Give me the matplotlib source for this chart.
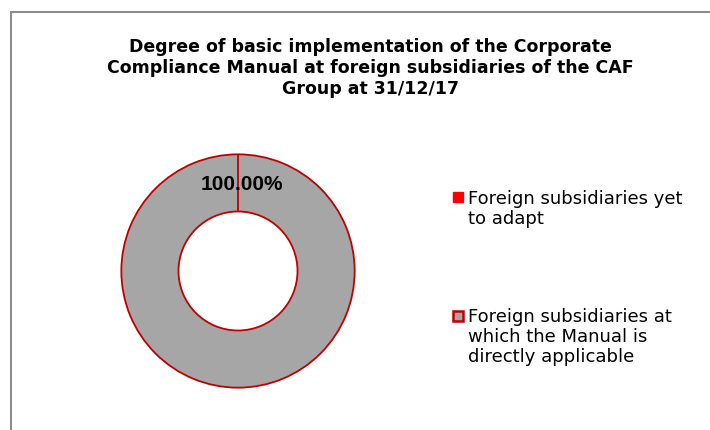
import matplotlib.pyplot as plt
from matplotlib.patches import Rectangle
import numpy as np

# data
labels = ["Foreign subsidiaries yet\nto adapt",
          "Foreign subsidiaries at\nwhich the Manual is\ndirectly applicable"]
values = [0, 100]
colors = ["#FF0000", "#A6A6A6"]
title = ("Degree of basic implementation of the Corporate\n"
         "Compliance Manual at foreign subsidiaries of the CAF\n"
         "Group at 31/12/17")

W, H = 710, 430
fig = plt.figure(figsize=(W / 100, H / 100), dpi=100)

# outer frame (runs off the right/bottom edge like the original)
fig.patches.append(Rectangle((11 / W, -0.2), 1.2, 1 - 12 / H + 0.2,
                             transform=fig.transFigure, fill=False,
                             edgecolor="#8C8C8C", linewidth=1.5))

fig.text(370 / W, 1 - 68 / H, title, ha="center", va="center",
         fontsize=12.5, fontweight="bold", family="DejaVu Sans",
         linespacing=1.25)

# donut
cx, cy, r = 238, 271, 119
ax = fig.add_axes([(cx - r) / W, (H - cy - r) / H, 2 * r / W, 2 * r / H])
wedges, _ = ax.pie(values, colors=colors, startangle=90, counterclock=False,
                   radius=1, wedgeprops=dict(width=0.49, edgecolor="#C00000",
                                             linewidth=1.3))
# the empty slice only shows as its edge line, keep it above the ring
wedges[0].set_zorder(3)
ax.set_xlim(-1.02, 1.02)
ax.set_ylim(-1.02, 1.02)
ax.set_aspect("equal")
ax.axis("off")

total = sum(values)
pct = values[1] / total * 100
ax.text(0.03, 0.745, f"{pct:.2f}%", ha="center", va="center",
        fontsize=15, fontweight="bold", family="Liberation Sans", zorder=4)

# legend drawn by hand so the marker sits by the first line
leg_y = [197.5, 315.5]
for lab, col, y in zip(labels, colors, leg_y):
    ec = col if col == "#FF0000" else "#C00000"
    lw = 1.0 if col == "#FF0000" else 1.8
    fig.patches.append(Rectangle((453 / W, 1 - (y + 5) / H), 10 / W, 10 / H,
                                 transform=fig.transFigure, facecolor=col,
                                 edgecolor=ec, linewidth=lw))
    fig.text(468 / W, 1 - (y - 8) / H, lab, ha="left", va="top",
             fontsize=13, family="DejaVu Sans", linespacing=1.15)

fig.savefig("out.png", dpi=100)
